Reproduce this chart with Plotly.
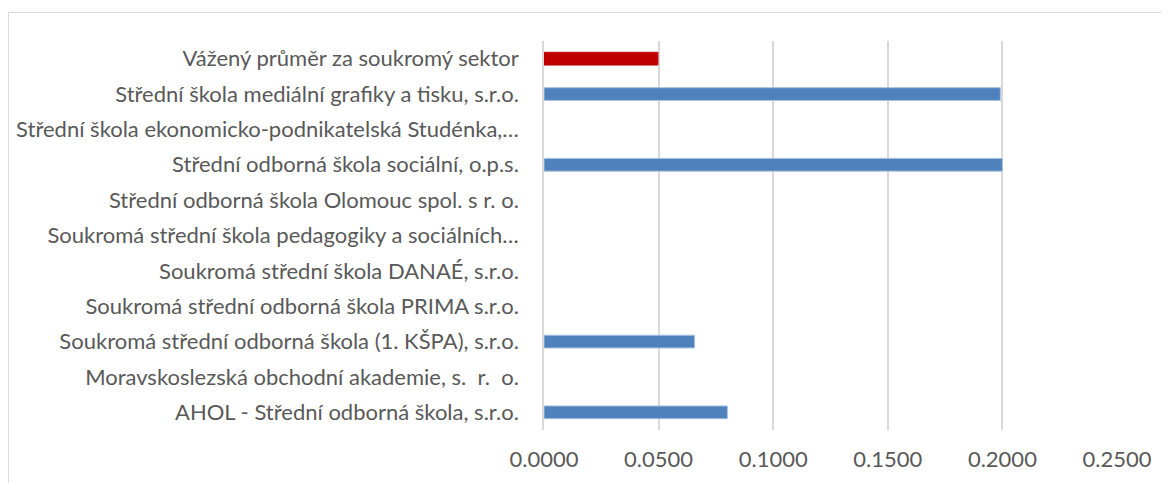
import plotly.graph_objects as go

categories = [
    "Vážený průměr za soukromý sektor",
    "Střední škola mediální grafiky a tisku, s.r.o.",
    "Střední škola ekonomicko-podnikatelská Studénka,…",
    "Střední odborná škola sociální, o.p.s.",
    "Střední odborná škola Olomouc spol. s r. o.",
    "Soukromá střední škola pedagogiky a sociálních…",
    "Soukromá střední škola DANAÉ, s.r.o.",
    "Soukromá střední odborná škola PRIMA s.r.o.",
    "Soukromá střední odborná škola (1. KŠPA), s.r.o.",
    "Moravskoslezská obchodní akademie, s.  r.  o.",
    "AHOL - Střední odborná škola, s.r.o.",
]
values = [0.0497, 0.1991, 0.0, 0.2000, 0.0, 0.0, 0.0, 0.0, 0.0657, 0.0, 0.0800]
x_ticks = [0.0, 0.05, 0.10, 0.15, 0.20, 0.25]

bar_colors = ["#C00000"] + ["#4F81BD"] * (len(categories) - 1)
line_colors = ["#C00000"] + ["#A9C1DF"] * (len(categories) - 1)
line_widths = [1 if v > 0 else 0 for v in values]

fig = go.Figure(
    go.Bar(
        y=categories,
        x=values,
        orientation="h",
        marker=dict(color=bar_colors, line=dict(color=line_colors, width=line_widths)),
        width=0.36,
    )
)

font_family = "Lato, 'Open Sans', sans-serif"
fig.update_layout(
    width=1161,
    height=475,
    margin=dict(l=536, r=52, t=33, b=53, autoexpand=False),
    paper_bgcolor="white",
    plot_bgcolor="white",
    showlegend=False,
    font=dict(family=font_family, size=22, color="#595959"),
    shapes=[
        dict(
            type="rect", xref="paper", yref="paper",
            x0=-0.935, x1=1.3, y0=-0.4, y1=1.0738,
            line=dict(color="#D9D9D9", width=1.3),
            fillcolor="rgba(0,0,0,0)", layer="below",
        )
    ],
)
fig.update_xaxes(
    range=[0, 0.25],
    tickvals=x_ticks,
    tickformat=".4f",
    showgrid=True,
    gridcolor="#D9D9D9",
    gridwidth=1.5,
    zeroline=False,
    showline=False,
    ticks="",
    ticklabelstandoff=14,
    automargin=False,
    tickfont=dict(size=22, color="#595959"),
)
fig.update_yaxes(
    categoryorder="array",
    categoryarray=categories,
    autorange="reversed",
    showgrid=False,
    zeroline=False,
    showline=True,
    linecolor="#D9D9D9",
    linewidth=1.5,
    ticks="",
    ticklabelstandoff=19,
    automargin=False,
    tickfont=dict(size=22, color="#595959"),
)

fig.write_html("out.html")
